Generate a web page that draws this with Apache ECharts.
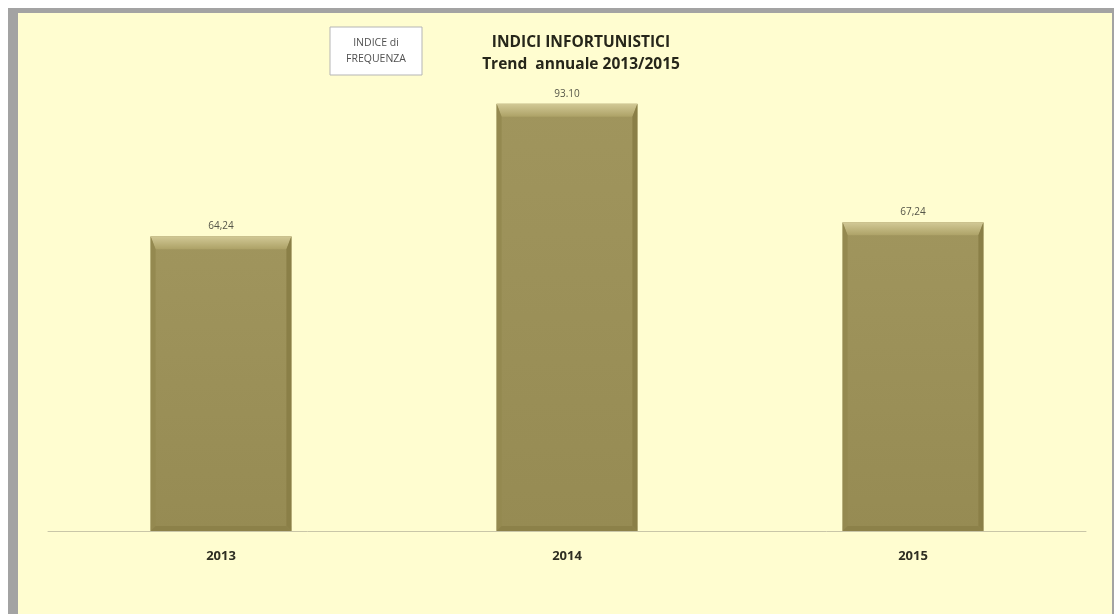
<!DOCTYPE html>
<html>
<head>
<meta charset="utf-8">
<script src="https://cdn.jsdelivr.net/npm/echarts@6/dist/echarts.min.js"></script>
<style>
html,body{margin:0;padding:0;background:#ffffff;}
#chart{width:1115px;height:614px;}
</style>
</head>
<body>
<div id="chart"></div>
<script>
const categories = ['2013', '2014', '2015'];
const values = [64.24, 93.10, 67.24];
const valueLabels = ['64,24', '93.10', '67,24'];
const titleLines = ['INDICI INFORTUNISTICI', 'Trend  annuale 2013/2015'];
const boxLines = ['INDICE di', 'FREQUENZA'];

const chart = echarts.init(document.getElementById('chart'));

function renderBar(params, api) {
  const x = api.value(0);
  const v = api.value(1);
  const top = api.coord([x, v]);
  const base = api.coord([x, 0]);
  const w = api.size([1, 0])[0] * 0.407;
  const l = top[0] - w / 2, r = top[0] + w / 2;
  const t = top[1], b = base[1];
  const bt = 13, bs = 5, bb = 5;
  return {
    type: 'group',
    children: [
      { type: 'rect', shape: { x: l, y: t, width: w, height: b - t },
        style: { fill: new echarts.graphic.LinearGradient(0, 0, 0, 1, [
          { offset: 0, color: '#a0955d' }, { offset: 1, color: '#968b53' }]) } },
      { type: 'polygon', shape: { points: [[l, t], [r, t], [r - bs, t + bt], [l + bs, t + bt]] },
        style: { fill: new echarts.graphic.LinearGradient(0, 0, 0, 1, [
          { offset: 0, color: '#d2c996' }, { offset: 1, color: '#ada267' }]) } },
      { type: 'polygon', shape: { points: [[l, t], [l + bs, t + bt], [l + bs, b - bb], [l, b]] },
        style: { fill: '#948950' } },
      { type: 'polygon', shape: { points: [[r, t], [r - bs, t + bt], [r - bs, b - bb], [r, b]] },
        style: { fill: '#8a7f47' } },
      { type: 'polygon', shape: { points: [[l, b], [l + bs, b - bb], [r - bs, b - bb], [r, b]] },
        style: { fill: '#8c8149' } },
      { type: 'text', x: top[0], y: t - 5,
        style: { text: valueLabels[params.dataIndex], align: 'center', verticalAlign: 'bottom',
          fontSize: 10, fontFamily: 'Open Sans, sans-serif', fill: '#555548' } }
    ]
  };
}

chart.setOption({
  backgroundColor: '#ffffff',
  animation: false,
  grid: { left: 48, right: 29, top: 72, bottom: 83, show: true, backgroundColor: 'transparent', borderWidth: 0 },
  xAxis: {
    type: 'category',
    data: categories,
    axisLine: { show: true, lineStyle: { color: '#c9c6a8', width: 1 } },
    axisTick: { show: false },
    axisLabel: { margin: 19, fontSize: 13, fontWeight: 'bold', color: '#2e2e22', fontFamily: 'Open Sans, sans-serif' }
  },
  yAxis: { type: 'value', min: 0, max: 100, show: false, splitLine: { show: false } },
  graphic: [
    { type: 'rect', z: -10, shape: { x: 8, y: 8, width: 1106, height: 606 }, style: { fill: '#a3a3a3' } },
    { type: 'rect', z: -9, shape: { x: 18, y: 13, width: 1094, height: 601 }, style: { fill: '#fffdd0' } },
    { type: 'rect', z: 5, shape: { x: 330, y: 27, width: 92, height: 48 },
      style: { fill: '#ffffff', stroke: '#b5b5b5', lineWidth: 1 } },
    { type: 'text', z: 6, x: 376, y: 51,
      style: { text: boxLines.join('\n'), align: 'center', verticalAlign: 'middle', fontSize: 10.5, lineHeight: 16,
        fontFamily: 'Open Sans, sans-serif', fill: '#505050' } },
    { type: 'text', z: 6, x: 581, y: 54,
      style: { text: titleLines.join('\n'), align: 'center', verticalAlign: 'middle', fontSize: 15.5, lineHeight: 22,
        fontWeight: 'bold', fontFamily: 'Open Sans, sans-serif', fill: '#26261a' } }
  ],
  series: [{
    type: 'custom',
    renderItem: renderBar,
    data: values.map((v, i) => [i, v]),
    encode: { x: 0, y: 1 }
  }]
});
</script>
</body>
</html>
